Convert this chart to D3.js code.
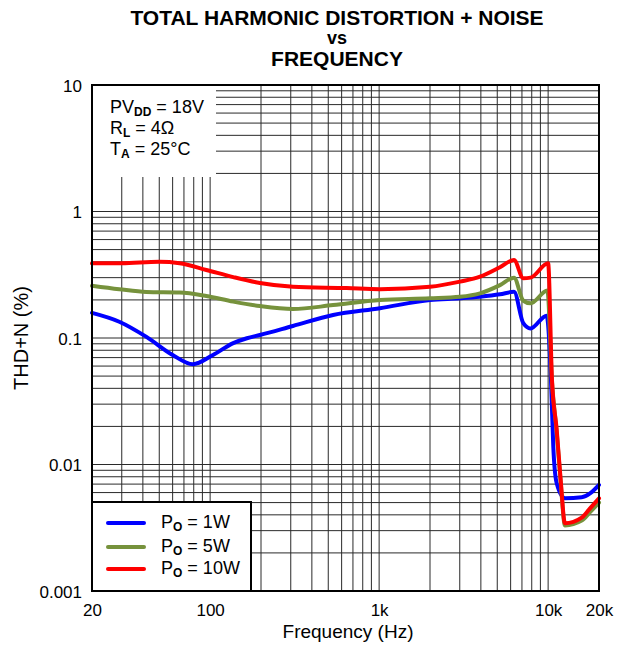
<!DOCTYPE html>
<html>
<head>
<meta charset="utf-8">
<script src="https://cdn.jsdelivr.net/npm/d3@7"></script>
<style>
  html, body { margin: 0; padding: 0; background: #fff; }
  svg { display: block; }
  text { font-family: "Liberation Sans", Arial, sans-serif; fill: #000; }
</style>
</head>
<body>
<svg id="chart" width="631" height="650"></svg>
<script>
// ---- data ----
const titleLines = ["TOTAL HARMONIC DISTORTION + NOISE", "vs", "FREQUENCY"];
const xTickVals = [20, 100, 1000, 10000, 20000];
const xTickLabels = ["20", "100", "1k", "10k", "20k"];
const yTickVals = [0.001, 0.01, 0.1, 1, 10];
const yTickLabels = ["0.001", "0.01", "0.1", "1", "10"];
const xTitle = "Frequency (Hz)";
const yTitle = "THD+N (%)";

const freq1W = [20, 29, 42, 60, 79, 104, 137, 165, 197, 309, 534, 1012, 2000, 3010, 3954, 5190, 6280, 7130, 7866, 9800, 10400, 10730, 11240, 12580, 15800, 17700, 20000];
const thd1W  = [0.158, 0.1345, 0.102, 0.0734, 0.062, 0.0734, 0.091, 0.0995, 0.1056, 0.1245, 0.152, 0.172, 0.2, 0.206, 0.212, 0.2215, 0.232, 0.131, 0.119, 0.15, 0.0466, 0.0138, 0.0071, 0.0054, 0.0055, 0.0059, 0.0069];

const freq5W = [20, 29, 42, 66, 95, 137, 197, 309, 534, 1012, 2000, 3010, 3954, 5190, 6280, 7130, 7866, 9900, 10540, 11240, 11870, 12580, 15800, 17700, 20000];
const thd5W  = [0.259, 0.243, 0.231, 0.229, 0.215, 0.194, 0.179, 0.1695, 0.182, 0.2, 0.206, 0.212, 0.2256, 0.262, 0.30, 0.197, 0.188, 0.237, 0.045, 0.018, 0.0072, 0.0033, 0.0036, 0.0042, 0.0050];

const freq10W = [20, 30, 50, 66, 95, 137, 197, 309, 643, 1012, 2000, 3010, 3954, 5190, 6280, 7130, 7866, 10000, 10540, 11240, 11870, 12580, 15800, 17700, 20000];
const thd10W  = [0.389, 0.39, 0.40, 0.39, 0.345, 0.303, 0.272, 0.254, 0.248, 0.243, 0.254, 0.279, 0.305, 0.362, 0.414, 0.297, 0.300, 0.389, 0.0466, 0.0188, 0.0075, 0.00343, 0.0038, 0.0045, 0.0054];

const seriesNames = ["1W", "5W", "10W"];
const seriesColors = ["#0000ff", "#76923c", "#ff0000"];

// ---- layout ----
const L = 92, R = 599, T = 85, B = 591;
const svg = d3.select("#chart");

const x = d3.scaleLog().domain([20, 20000]).range([L, R]);
const y = d3.scaleLog().domain([0.001, 10]).range([B, T]);

// grid
const grid = svg.append("g").attr("stroke", "#2a2a2a").attr("stroke-width", 1);
grid.selectAll("line.v").data(x.ticks().filter(d => d > 20 && d < 20000)).join("line")
  .attr("x1", d => x(d)).attr("x2", d => x(d)).attr("y1", T).attr("y2", B);
grid.selectAll("line.h").data(y.ticks().filter(d => d > 0.001 && d < 10)).join("line")
  .attr("x1", L).attr("x2", R).attr("y1", d => y(d)).attr("y2", d => y(d));

// top-left condition box (white, no border)
svg.append("rect").attr("x", L).attr("y", T).attr("width", 124).attr("height", 92).attr("fill", "#fff");

// curves
const lineGen = d3.line().x(d => x(d[0])).y(d => y(d[1])).curve(d3.curveMonotoneX);
const series = [
  d3.zip(freq1W, thd1W),
  d3.zip(freq5W, thd5W),
  d3.zip(freq10W, thd10W)
];
svg.append("g").selectAll("path").data(series).join("path")
  .attr("d", lineGen)
  .attr("fill", "none")
  .attr("stroke", (d, i) => seriesColors[i])
  .attr("stroke-width", 4)
  .attr("stroke-linejoin", "round")
  .attr("stroke-linecap", "round");

// frame
svg.append("rect").attr("x", L).attr("y", T).attr("width", R - L).attr("height", B - T)
  .attr("fill", "none").attr("stroke", "#000").attr("stroke-width", 2);

// axes
const xAxis = svg.append("g").attr("transform", `translate(0,${B})`)
  .call(d3.axisBottom(x).tickValues(xTickVals).tickFormat((d, i) => xTickLabels[i]).tickSize(0).tickPadding(0));
xAxis.select(".domain").remove();
xAxis.selectAll("text").attr("y", 25).attr("dy", null)
  .style("font-size", "17px").style("font-family", "'Liberation Sans', Arial, sans-serif").attr("fill", "#000");

const yAxis = svg.append("g").attr("transform", `translate(${L},0)`)
  .call(d3.axisLeft(y).tickValues(yTickVals).tickFormat((d, i) => yTickLabels[i]).tickSize(0).tickPadding(10));
yAxis.select(".domain").remove();
yAxis.selectAll("text").attr("dy", "0.36em")
  .style("font-size", "17px").style("font-family", "'Liberation Sans', Arial, sans-serif").attr("fill", "#000");

// axis titles
svg.append("text").attr("x", 348).attr("y", 638).attr("text-anchor", "middle")
  .style("font-size", "19px").text(xTitle);
svg.append("text").attr("transform", "translate(28,338) rotate(-90)").attr("text-anchor", "middle")
  .style("font-size", "20px").text(yTitle);

// title
const titleY = [25, 44, 66];
const titleSize = [21, 18, 21];
titleLines.forEach((t, i) => {
  svg.append("text").attr("x", 337).attr("y", titleY[i]).attr("text-anchor", "middle")
    .style("font-size", titleSize[i] + "px").style("font-weight", "bold").text(t);
});

// conditions text
function subText(xp, yp, main, sub, rest) {
  const t = svg.append("text").attr("x", xp).attr("y", yp).style("font-size", "18px");
  t.append("tspan").text(main);
  t.append("tspan").attr("dy", 3).style("font-size", "12px").style("font-weight", "bold").text(sub);
  t.append("tspan").attr("dy", -3).text(rest);
}
subText(110, 113, "PV", "DD", " = 18V");
subText(110, 134, "R", "L", " = 4Ω");
subText(110, 155, "T", "A", " = 25°C");

// legend
svg.append("rect").attr("x", L).attr("y", 502).attr("width", 159).attr("height", B - 502)
  .attr("fill", "#fff").attr("stroke", "#000").attr("stroke-width", 2);
const legY = [523, 547, 569];
seriesNames.forEach((n, i) => {
  svg.append("line").attr("x1", 108).attr("x2", 144).attr("y1", legY[i]).attr("y2", legY[i])
    .attr("stroke", seriesColors[i]).attr("stroke-width", 4).attr("stroke-linecap", "round");
  subText(161, legY[i] + 5, "P", "O", " = " + n);
});
</script>
</body>
</html>
